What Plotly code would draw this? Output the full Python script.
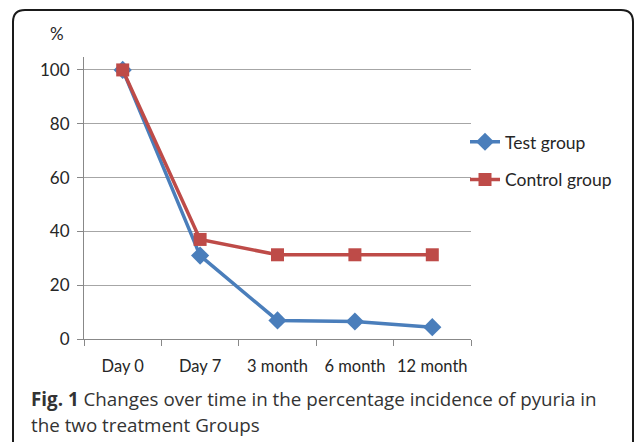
import plotly.graph_objects as go

categories = ["Day 0", "Day 7", "3 month", "6 month", "12 month"]
test_group = [100, 31, 6.9, 6.5, 4.4]
control_group = [100, 37, 31.3, 31.3, 31.3]
y_ticks = [0, 20, 40, 60, 80, 100]

W, H = 634, 442
L, R, T, B = 84, 471, 57, 339.5

def px(x):
    return (x - L) / (R - L)

def py(y):
    return (B - y) / (B - T)

fig = go.Figure()
fig.add_trace(go.Scatter(
    x=categories, y=test_group, name="Test group", mode="lines+markers",
    line=dict(color="#4A7EBB", width=3.5),
    marker=dict(symbol="diamond", size=14, color="#4A7EBB"),
    legendgroup="a",
))
fig.add_trace(go.Scatter(
    x=categories, y=control_group, name="Control group", mode="lines+markers",
    line=dict(color="#BE4B48", width=3.5),
    marker=dict(symbol="square", size=13, color="#BE4B48"),
    legendgroup="b",
))

font_chart = "Lato, Liberation Sans, sans-serif"

fig.update_layout(
    width=W, height=H,
    margin=dict(l=L, r=W - R, t=T, b=H - B, pad=0),
    paper_bgcolor="white", plot_bgcolor="white",
    showlegend=True,
    legend=dict(
        x=px(465), y=py(124), xanchor="left", yanchor="top",
        font=dict(family=font_chart, size=17.5, color="#262626"),
        traceorder="grouped", tracegroupgap=12,
        bgcolor="rgba(0,0,0,0)", itemwidth=30,
    ),
    xaxis=dict(
        type="category", tickson="boundaries", ticks="outside", ticklen=6,
        tickcolor="#888888", showgrid=False, showline=True, linecolor="#888888",
        linewidth=1, tickfont=dict(family=font_chart, size=16.5, color="#262626"),
        tickangle=0, ticklabelstandoff=12,
        range=[-0.5, 4.5], fixedrange=True,
    ),
    yaxis=dict(
        range=[0, 104.8], tickvals=y_ticks, ticks="outside", ticklen=6,
        tickcolor="#888888", showgrid=True, gridcolor="#A6A6A6", gridwidth=1,
        showline=True, linecolor="#888888", linewidth=1, zeroline=False,
        ticklabelstandoff=4,
        tickfont=dict(family=font_chart, size=17, color="#262626"),
    ),
)

# "%" axis label
fig.add_annotation(
    x=px(57), y=py(33), xref="paper", yref="paper", text="%", showarrow=False,
    font=dict(family=font_chart, size=17, color="#262626"),
    xanchor="center", yanchor="middle",
)

# Caption
cap_font = "Open Sans, sans-serif"
fig.add_annotation(
    x=px(29), y=py(400), xref="paper", yref="paper",
    text="<b>Fig. 1</b> Changes over time in the percentage incidence of pyuria in",
    showarrow=False, xanchor="left", yanchor="middle",
    font=dict(family=cap_font, size=18.8, color="#333333"),
)
fig.add_annotation(
    x=px(29), y=py(426), xref="paper", yref="paper",
    text="the two treatment Groups",
    showarrow=False, xanchor="left", yanchor="middle",
    font=dict(family=cap_font, size=18.8, color="#333333"),
)

# Rounded border frame
lx, ty, by, rx, rad = 13, 10, 445, 633, 12
path = (
    f"M {px(lx)},{py(by)} L {px(lx)},{py(ty + rad)} "
    f"Q {px(lx)},{py(ty)} {px(lx + rad)},{py(ty)} "
    f"L {px(rx - rad)},{py(ty)} Q {px(rx)},{py(ty)} {px(rx)},{py(ty + rad)} "
    f"L {px(rx)},{py(by)}"
)
fig.add_shape(type="path", path=path, xref="paper", yref="paper",
              line=dict(color="#1a1a1a", width=2))

fig.write_html(
    "out.html",
    config={"displayModeBar": False},
    post_script="document.body.style.margin='0';document.body.style.overflow='hidden';",
)
